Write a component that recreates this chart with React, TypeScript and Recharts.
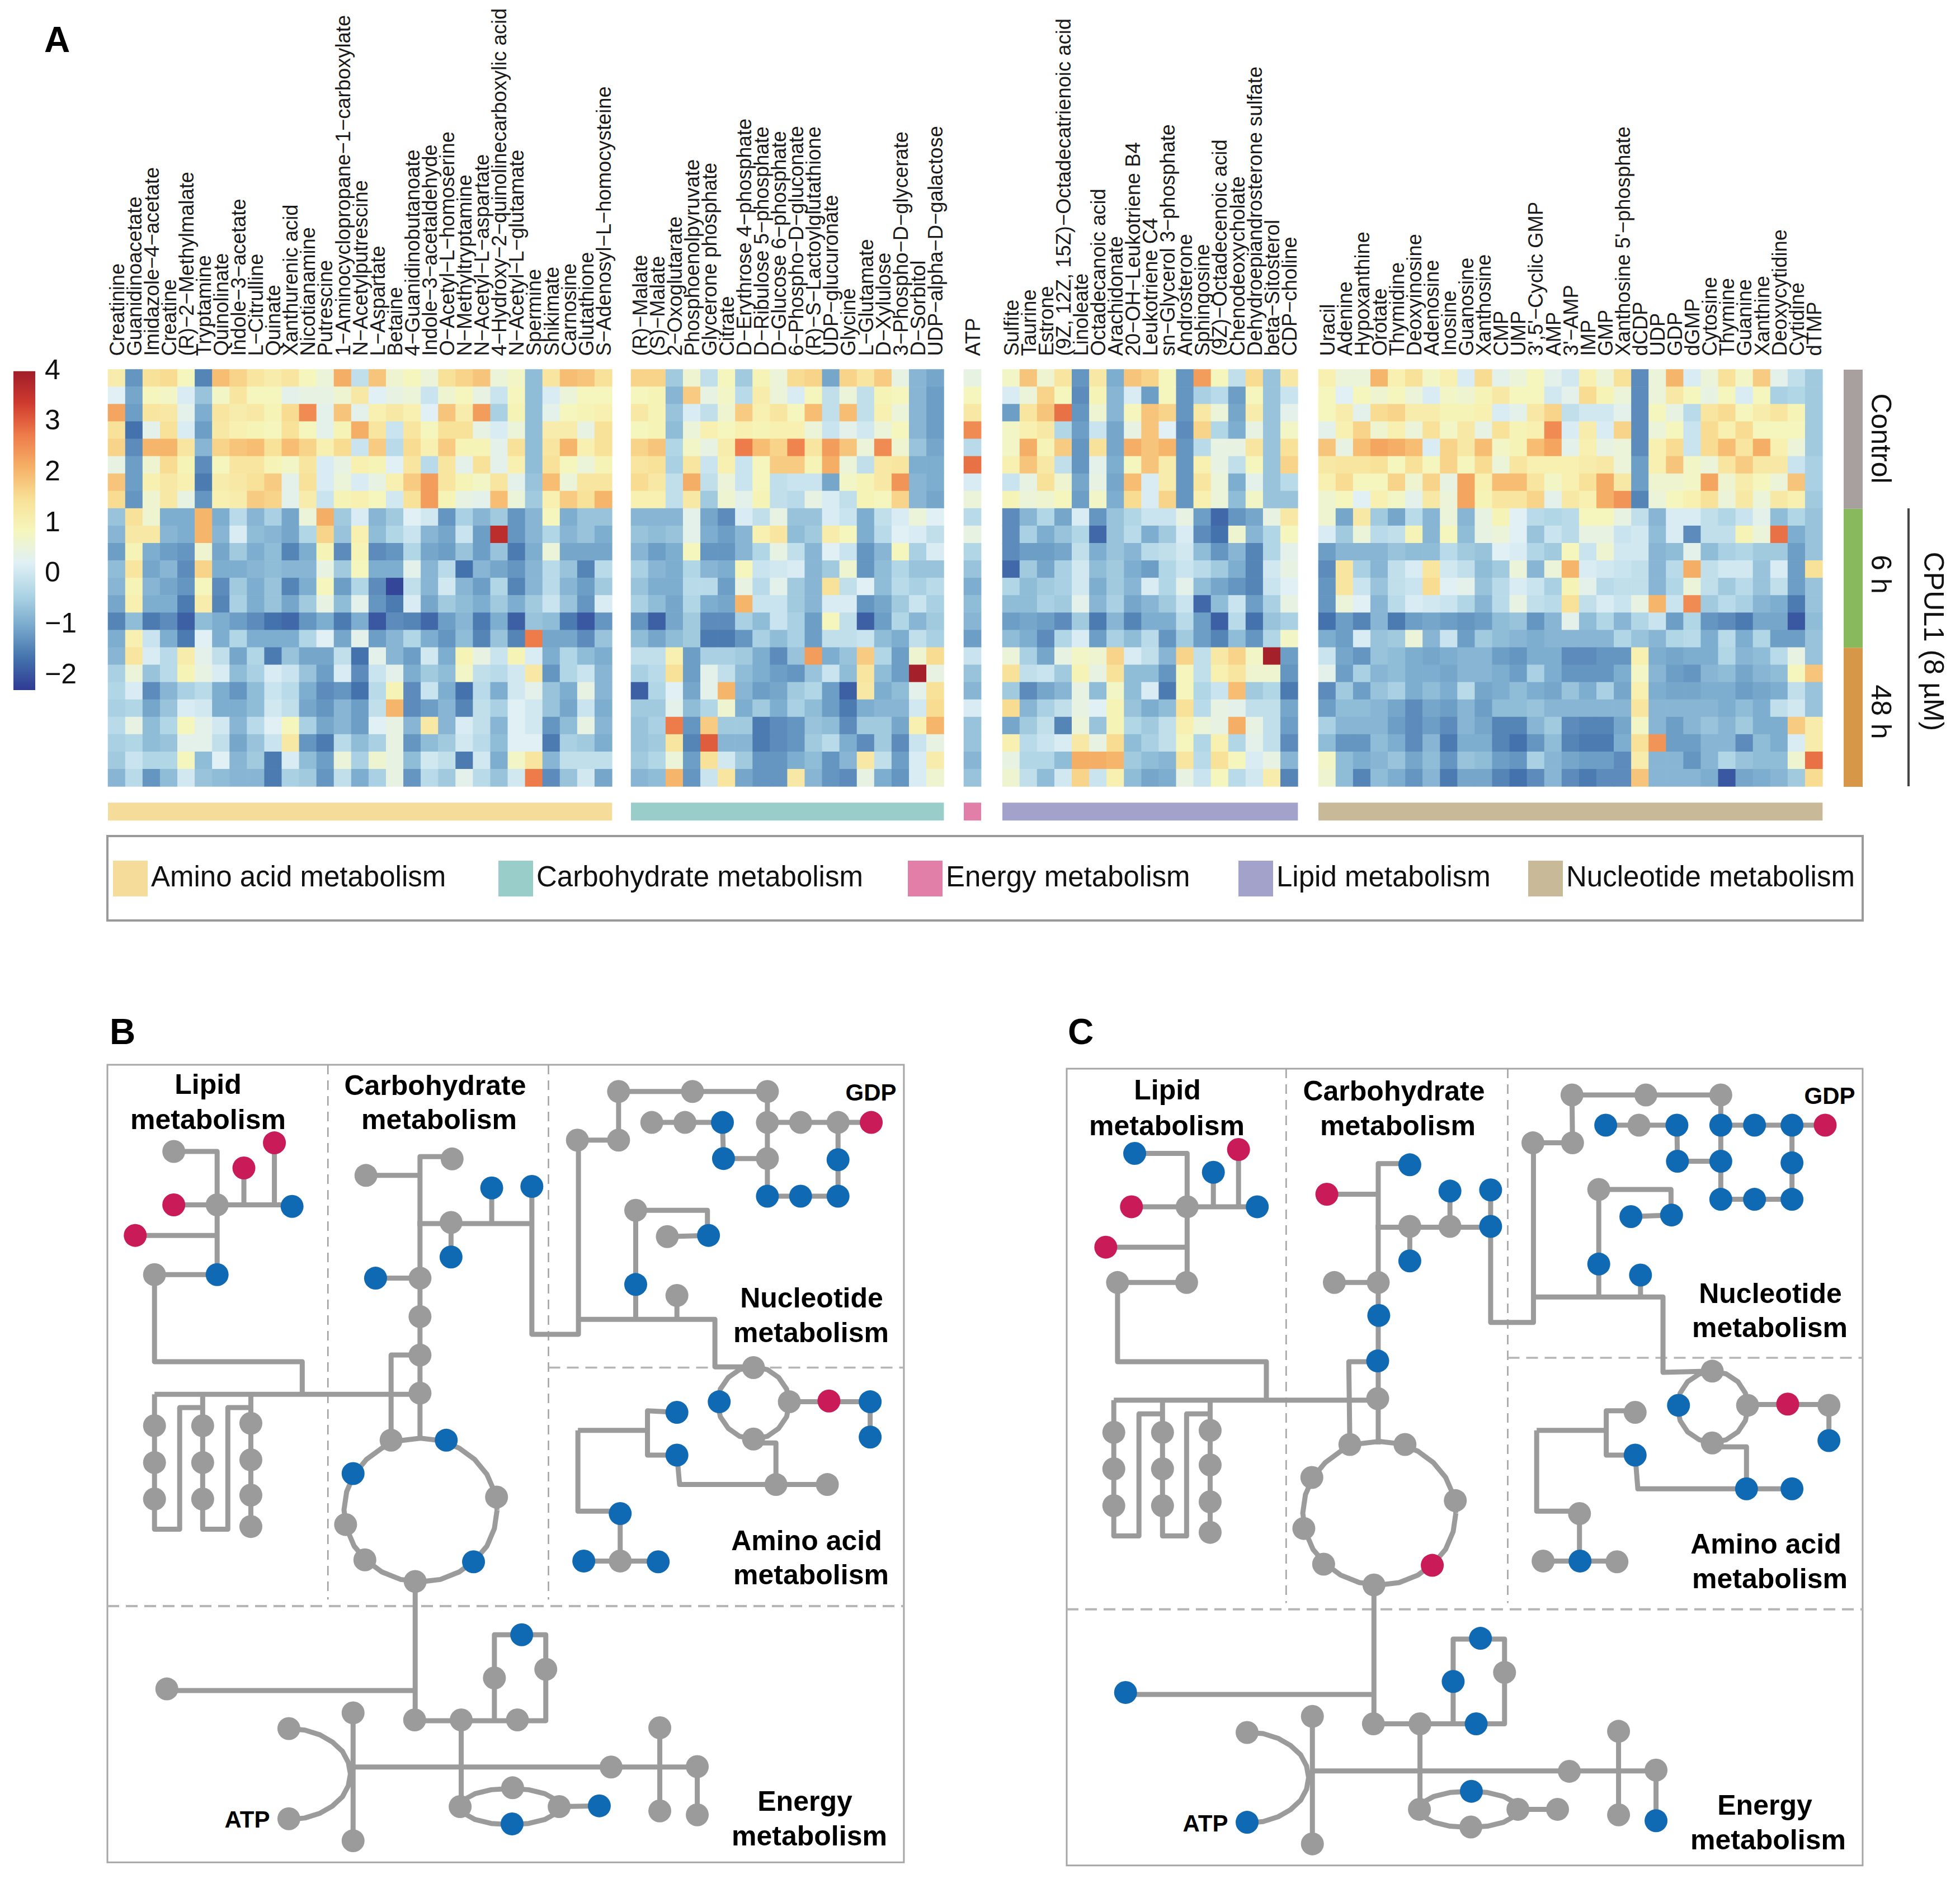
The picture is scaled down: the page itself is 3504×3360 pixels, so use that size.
import { BarChart, Bar, ScatterChart, Scatter, XAxis, YAxis, ReferenceArea, ReferenceLine } from 'recharts'

const FONT = "'Liberation Sans', Arial, sans-serif"
const CELL = 31.08
const HEAT_TOP = 660.5

const aminoLabels = ['Creatinine', 'Guanidinoacetate', 'Imidazole−4−acetate', 'Creatine', '(R)−2−Methylmalate', 'Tryptamine', 'Quinolinate', 'Indole−3−acetate', 'L−Citrulline', 'Quinate', 'Xanthurenic acid', 'Nicotianamine', 'Putrescine', '1−Aminocyclopropane−1−carboxylate', 'N−Acetylputrescine', 'L−Aspartate', 'Betaine', '4−Guanidinobutanoate', 'Indole−3−acetaldehyde', 'O−Acetyl−L−homoserine', 'N−Methyltryptamine', 'N−Acetyl−L−aspartate', '4−Hydroxy−2−quinolinecarboxylic acid', 'N−Acetyl−L−glutamate', 'Spermine', 'Shikimate', 'Carnosine', 'Glutathione', 'S−Adenosyl−L−homocysteine']
const carbLabels = ['(R)−Malate', '(S)−Malate', '2−Oxoglutarate', 'Phosphoenolpyruvate', 'Glycerone phosphate', 'Citrate', 'D−Erythrose 4−phosphate', 'D−Ribulose 5−phosphate', 'D−Glucose 6−phosphate', '6−Phospho−D−gluconate', '(R)−S−Lactoylglutathione', 'UDP−glucuronate', 'Glycine', 'L−Glutamate', 'D−Xylulose', '3−Phospho−D−glycerate', 'D−Sorbitol', 'UDP−alpha−D−galactose']
const energyLabels = ['ATP']
const lipidLabels = ['Sulfite', 'Taurine', 'Estrone', '(9Z, 12Z, 15Z)−Octadecatrienoic acid', 'Linoleate', 'Octadecanoic acid', 'Arachidonate', '20−OH−Leukotriene B4', 'Leukotriene C4', 'sn−Glycerol 3−phosphate', 'Androsterone', 'Sphingosine', '(9Z)−Octadecenoic acid', 'Chenodeoxycholate', 'Dehydroepiandrosterone sulfate', 'beta−Sitosterol', 'CDP−choline']
const nucLabels = ['Uracil', 'Adenine', 'Hypoxanthine', 'Orotate', 'Thymidine', 'Deoxyinosine', 'Adenosine', 'Inosine', 'Guanosine', 'Xanthosine', 'CMP', 'UMP', "3',5'−Cyclic GMP", 'AMP', "3'−AMP", 'IMP', 'GMP', "Xanthosine 5'−phosphate", 'dCDP', 'UDP', 'GDP', 'dGMP', 'Cytosine', 'Thymine', 'Guanine', 'Xanthine', 'Deoxycytidine', 'Cytidine', 'dTMP']

const aminoRows = [
  [1.1, -1.3, 1.4, 1.5, 0.8, -1.5, 1.9, 1.6, 1.3, 1.1, 1.3, 0.8, 0.5, 2.1, -0.2, 1.8, 0.6, 0.8, 0.5, 1.4, 1.6, 1.8, 0.5, 0.7, -0.8, 1.3, 1.9, 1.8, 1.4],
  [0.2, -1.1, 0.8, 0.7, 0.1, -0.7, 0.7, 1.3, 0.8, 0.8, 0.3, 0.4, 0.4, 0.6, 1.2, 0.2, 0.4, 0.5, -0.1, 0.6, 0.8, 0.4, -0.1, 0.8, -0.8, 0.1, 0.5, 0.8, 0.8],
  [2.2, -1.2, 1.3, 1.2, 0.3, -1.0, 1.3, 1.1, 1.2, 0.9, 1.5, 2.5, 0.3, 1.8, 0.3, 1.0, 1.2, 1.0, 0.2, 1.8, 1.1, 2.3, -0.5, 0.9, -0.8, 0.3, 0.8, 0.9, 1.0],
  [1.4, -1.7, 0.3, 1.4, 0.1, -1.2, 1.2, 1.0, 0.9, 0.8, 1.4, 0.8, 0.3, 0.9, 2.1, 1.3, -0.1, 1.3, 0.8, 1.4, 1.4, 0.4, 0.1, 0.5, -0.8, 1.1, 1.1, 0.4, 1.4],
  [1.6, -1.4, 2.0, 2.0, 1.3, -0.9, 1.6, 1.8, 1.9, 1.4, 1.9, 1.6, 1.0, 1.5, -0.1, 1.7, -0.3, 1.5, 1.0, 1.7, 0.9, 0.9, 0.3, 1.4, -0.8, 1.3, 2.0, 1.0, 1.4],
  [0.4, -1.2, 0.6, 1.5, 0.9, -1.4, 0.8, 1.3, 1.3, 0.9, 0.7, 1.3, 0.1, 0.4, 1.0, 0.9, 0.2, 1.3, -0.3, 1.3, 0.3, 1.4, 0.3, 1.0, -0.8, 1.4, 0.8, 0.5, 0.9],
  [1.8, -1.2, 1.0, 1.2, 1.0, -1.6, 1.1, 1.2, 1.4, 1.7, 0.3, 1.4, 0.1, 0.5, 0.1, 0.4, 1.0, 1.7, 2.3, 1.3, 0.9, 0.7, 1.3, 0.3, -0.7, 1.9, 0.5, 1.3, 1.3],
  [1.5, -1.3, 0.6, 1.2, 0.4, -1.3, 1.0, 1.1, 1.7, 1.6, 0.3, 1.1, -0.1, 0.9, 1.0, 0.8, 0.0, 1.4, 2.3, 0.9, 0.4, 0.3, 1.9, 0.5, -0.6, 1.0, 1.7, 1.4, 2.0],
  [-0.7, 1.4, 0.6, -1.0, -1.0, 2.0, -1.0, -0.3, -0.9, -0.5, -1.1, 0.5, 2.1, -0.6, 0.1, -0.9, -0.6, 0.2, 0.0, -1.3, -0.5, -0.9, -0.6, -1.3, -0.9, 0.8, -1.0, -0.7, -0.7],
  [-0.9, 1.2, 1.2, -0.9, -1.0, 2.0, -0.9, 0.1, -0.8, -0.9, -1.1, -0.4, 1.6, -0.7, 1.0, -0.8, -0.4, -0.1, -0.9, -1.1, -0.1, -1.2, 3.6, -1.3, -0.9, -0.4, -0.9, -0.7, -1.0],
  [-1.2, 0.9, -1.0, -1.2, -1.3, 0.6, -1.1, -0.6, -1.0, -0.8, -1.5, -1.0, 0.9, -1.4, 0.9, -1.4, -1.3, -0.4, -1.1, -1.2, -0.7, -1.2, -0.7, -1.6, -1.0, 0.5, -1.1, -1.1, -1.1],
  [-0.8, 1.3, -1.1, -0.9, -1.4, 1.6, -1.0, -1.0, -0.9, -0.8, -0.9, -0.9, 0.4, -0.6, 0.8, -1.0, -1.0, 0.3, -0.9, -0.3, -1.7, -0.9, -1.1, -1.3, -0.9, -0.3, -0.7, -1.5, -0.3],
  [-0.9, 0.9, -0.9, -1.1, -1.3, 0.8, -1.4, -0.6, -1.0, -0.7, -1.5, -1.0, 0.8, -1.2, -0.4, -1.4, -2.2, -0.2, -0.9, 0.0, -0.9, -1.2, -0.4, -1.5, -0.9, -0.3, -0.9, -1.2, -0.6],
  [-1.1, 1.0, -1.0, -1.0, -1.6, 1.1, -1.5, -0.5, -1.0, -0.7, -1.1, -0.6, 0.4, -0.8, 0.3, -1.3, -1.6, 0.1, -1.1, -0.6, -0.8, -1.0, -0.6, -1.0, -0.6, -0.1, -0.7, -1.3, 0.1],
  [-1.5, -0.8, -1.6, -1.4, -1.9, -0.8, -1.0, -1.2, -1.4, -1.7, -1.8, -1.3, -1.0, -1.6, -1.0, -2.0, -1.4, -1.5, -1.8, -1.2, -0.9, -1.6, -1.0, -1.9, -0.7, -0.8, -1.6, -2.0, -1.3],
  [-1.0, 1.0, -0.1, -1.0, -1.6, 0.2, -1.0, -0.4, -1.0, -1.0, -1.0, -0.4, 0.2, -1.1, 0.3, -1.2, -0.9, -0.4, -1.0, -1.3, -0.8, -1.5, -0.7, -1.5, 2.7, -1.1, -1.1, -1.4, -0.7],
  [-0.9, 1.3, 0.1, -0.3, 1.1, 0.3, -0.2, -1.1, -0.4, -1.6, -0.7, -1.1, -1.1, -0.2, -1.7, 0.3, -0.9, -1.2, 0.0, -1.0, 0.9, 0.4, -0.1, 0.9, 0.1, -1.0, -0.4, -0.8, -1.0],
  [-0.5, 0.5, -0.7, -0.3, 0.9, 0.4, 0.1, -0.8, -0.5, 0.1, -0.1, -0.7, -1.2, 0.1, -1.4, -0.1, 0.3, -1.0, -0.6, -0.8, 0.7, -0.2, -0.3, 0.0, 1.2, -1.3, -0.4, -0.1, -0.9],
  [-0.4, 0.1, -1.4, -0.9, -0.5, -0.3, -1.0, -1.3, -0.8, -0.1, -0.3, -1.0, -1.4, -1.3, -1.7, -0.3, 0.9, -1.4, -0.1, -1.0, -1.7, -0.3, -1.0, 0.0, 0.3, -0.7, -1.0, 0.4, -0.9],
  [-0.5, -0.4, -1.1, -0.7, 0.1, 0.0, -1.0, -1.0, -0.8, 0.0, -0.2, -1.1, -1.3, -0.9, -1.2, -0.2, 2.0, -1.4, -1.2, -0.9, -1.5, -0.2, -0.5, 0.2, 0.0, -0.7, -1.1, -0.1, -1.0],
  [-0.3, 0.4, -0.8, -0.4, 0.8, 0.3, 0.0, -0.9, -0.3, 0.2, 0.8, -0.5, -1.1, -0.9, -1.2, 0.2, 0.4, -0.9, 1.2, -0.9, 0.1, -0.2, -0.9, 0.2, 0.0, -1.3, -0.8, 0.4, -0.9],
  [-0.5, -0.4, -0.8, -0.7, 0.3, 0.3, -0.2, -1.1, -0.7, -0.1, 1.2, -1.3, -1.6, -0.3, -0.8, -0.5, 0.4, -1.3, -0.8, -0.6, 0.0, -0.3, -0.8, 0.2, 0.2, -1.6, -0.5, -0.6, -1.0],
  [-0.6, -0.1, -0.4, -0.4, 0.8, -0.8, 0.2, -0.9, -0.6, -1.6, 0.1, -0.8, -1.2, 0.5, -0.5, 0.6, 0.4, -0.8, 0.0, -0.2, -1.6, 0.0, -1.0, 0.7, 1.3, -0.9, -0.2, -0.2, -0.2],
  [-0.9, -0.3, -1.3, -0.8, 0.0, -0.7, -0.8, -0.9, -0.9, -1.6, -0.5, -0.6, -1.3, -0.2, -1.0, -0.5, 0.4, -1.3, -0.3, -0.6, 0.3, -0.3, -0.7, 0.0, 2.7, -1.4, -0.7, 0.0, -1.1],
]

const carbRows = [
  [1.6, 1.6, -0.6, 0.6, -0.2, 0.8, -0.6, 0.9, 0.5, 1.5, 1.6, -1.1, 1.6, 1.3, 1.7, 0.4, -0.9, -1.1],
  [0.8, 0.9, -0.9, 1.7, 0.4, 0.7, -0.3, 1.1, 0.5, 0.1, 0.8, -0.2, 0.5, -0.2, 0.9, 0.8, -0.9, -1.2],
  [1.2, 0.9, -0.7, 0.1, -0.2, 0.6, 1.7, 1.0, 1.3, 0.8, 1.9, -0.2, 1.9, -0.2, 1.0, 0.5, -0.9, -1.2],
  [0.8, 0.9, -0.8, 0.5, 1.0, 0.8, 1.0, 0.9, 1.0, 1.0, 0.5, -0.1, 0.3, 0.0, 0.5, 0.8, -0.9, -1.2],
  [1.6, 1.8, -0.4, 0.7, 0.4, 1.1, 2.7, 1.9, 1.6, 2.6, 1.3, 2.3, 1.8, 0.5, 2.5, 0.6, -0.7, -1.1],
  [1.3, 1.4, -0.5, 1.3, -0.1, 1.0, -0.1, 0.8, 1.7, 1.7, 0.9, 2.1, 0.5, -0.2, 1.2, 1.3, -1.0, -1.0],
  [1.5, 1.2, -0.2, 2.1, -0.2, 0.5, -0.1, 0.8, -0.2, -0.1, -0.1, -1.1, 0.7, 0.9, 1.2, 2.4, -0.9, -1.0],
  [1.0, 1.0, -0.2, 1.2, -0.6, 0.6, 0.3, 0.9, -0.2, -0.3, 0.4, 0.1, -0.2, 0.9, 0.8, 1.6, -0.9, -1.1],
  [-0.9, -0.9, -0.9, 0.3, -1.1, -1.4, 0.1, -0.2, 0.4, -0.7, -0.7, 0.1, -0.1, -1.0, -0.2, 0.1, 0.5, 0.2],
  [-0.7, -0.8, -0.7, 0.3, -1.0, -1.2, -0.9, 1.0, 1.3, -0.8, -0.6, 1.1, 0.8, -1.0, -0.3, 0.2, 0.1, -0.2],
  [-0.9, -1.2, -1.0, 0.8, -1.3, -1.3, -0.9, -0.4, 0.4, -0.2, -0.9, 0.2, -0.1, -1.3, -0.9, 0.8, -0.5, 0.1],
  [-0.5, -0.9, -1.0, -0.4, -0.9, -1.0, 0.8, -0.1, 0.0, 0.1, -0.9, -0.6, 0.6, -1.3, -0.8, -0.4, -0.7, -0.7],
  [-0.7, -1.0, -1.0, -0.3, -0.3, -1.2, 0.4, -0.3, 0.3, -0.6, -0.9, 1.4, -0.2, 0.2, -0.8, -0.3, -0.5, -0.3],
  [-0.5, -0.8, -1.1, -0.4, -1.0, -1.1, 2.0, -0.1, -0.1, -0.6, -0.9, 0.1, 0.1, -1.3, -1.1, -0.6, -0.1, -0.5],
  [-1.3, -1.9, -1.1, -0.6, -1.4, -1.4, -0.5, -0.8, -0.1, -0.5, -1.2, 0.8, -0.2, -1.9, -1.2, -0.4, -0.9, -0.6],
  [-0.8, -1.1, -0.8, -0.6, -1.6, -1.6, -1.3, -0.5, -0.8, -0.5, -1.2, -0.2, -0.2, -0.1, -0.8, -1.0, -0.2, -0.5],
  [-0.2, -0.2, 1.0, -1.2, -0.5, -0.5, -0.6, -1.0, -1.4, -0.7, 2.3, -1.0, -0.7, 1.7, -0.4, -1.2, 0.6, 1.5],
  [-0.5, -0.3, 1.4, -1.2, 0.3, -0.2, -0.8, -1.0, -1.2, -1.3, -0.7, -0.1, -0.8, 1.3, -0.8, -1.2, 3.9, 0.4],
  [-1.9, -0.4, 0.2, -1.1, 0.3, 2.0, -0.9, -1.2, -1.1, -0.6, -0.4, -1.2, -1.9, 1.2, -1.0, -0.8, 0.3, 1.4],
  [-0.6, -0.6, 0.3, -0.8, -0.4, 0.6, -1.0, -0.6, -1.0, -0.5, -0.8, -1.2, -1.6, -1.0, -0.9, -0.9, 0.0, 1.5],
  [-0.7, -0.5, 2.7, -1.3, 1.7, -0.6, -0.6, -1.6, -1.4, -1.3, -0.7, -0.8, -1.4, -0.6, -0.6, -1.1, 1.0, 2.0],
  [-0.7, -0.6, 1.3, -1.5, 3.0, -0.9, -0.9, -1.6, -1.4, -1.3, -0.6, -0.3, -1.0, -1.4, -0.6, -1.4, -0.1, 0.4],
  [-0.6, -0.4, 0.5, -1.2, 1.4, 0.0, -0.6, -1.3, -1.3, -1.0, -0.8, -1.3, -0.9, 1.2, -0.2, -1.2, 0.1, 1.1],
  [-0.9, -0.8, 2.0, -1.3, -0.1, 1.3, -1.1, -1.3, -1.3, 1.2, -0.9, -1.3, -1.4, 0.4, -1.0, -1.3, 0.1, 0.6],
]

const atpColumn = [0.4, 0.8, 1.2, 2.5, -0.3, 2.8, 0.1, 0.5, -0.3, 0.4, -0.4, -0.7, -1.0, -0.8, -0.9, -1.2, -0.1, -0.7, -0.9, 0.1, -0.7, -0.7, -0.9, -0.7]

const lipidRows = [
  [0.7, 1.8, 0.6, 1.3, -1.3, 1.2, -1.0, 1.8, 1.6, 0.8, -1.3, 2.3, 0.8, -0.2, 1.5, -0.7, 1.2],
  [0.1, 0.5, 1.6, 0.8, -1.4, 0.9, -0.9, 0.1, -1.2, 0.8, -1.3, -0.5, -0.3, -1.2, 0.8, -0.7, -0.1],
  [-1.2, 1.3, 1.8, 2.8, -1.3, 0.6, -0.9, 0.8, 1.8, 1.6, -1.3, 1.2, 0.5, -1.1, 1.1, -0.7, 0.3],
  [0.7, 1.0, 1.2, -0.4, -1.2, -0.1, -1.1, 0.4, 1.8, 0.2, -1.4, 1.6, -0.4, -1.0, 0.4, -0.7, 0.7],
  [0.7, 2.1, 0.9, 1.7, -1.3, 1.4, -1.1, 2.1, 1.8, 2.0, -1.3, -0.3, 0.4, 0.4, 1.3, -0.7, 1.4],
  [1.0, 1.8, 1.2, -0.2, -1.3, 0.3, -1.0, 0.8, 1.8, 1.1, -1.3, 1.0, 0.4, -0.2, 0.8, -0.7, 1.6],
  [-0.1, 0.4, 1.4, 0.6, -1.1, 0.4, -1.1, 1.9, 0.1, 1.1, -1.3, 1.3, 0.5, -1.0, 0.3, -0.7, -0.3],
  [0.9, 0.5, 0.6, 0.8, -1.2, 0.7, -1.0, 1.5, 0.1, 1.6, -1.3, 1.0, 0.5, -0.8, 0.7, -0.7, -0.7],
  [-1.4, -0.9, -0.4, -1.1, 0.1, -1.3, -0.7, -0.4, -0.1, -0.1, 0.4, -1.2, -1.8, -1.3, -1.1, 0.4, 1.2],
  [-1.4, -0.5, -1.0, -0.7, -0.4, -1.8, -0.7, -0.3, -1.0, -0.6, 0.1, -1.4, -1.7, 0.6, -0.9, -0.4, 0.8],
  [-1.4, -1.2, -1.2, -1.1, -0.2, -1.0, -0.7, -0.9, -0.3, -0.2, 0.0, -0.8, -1.3, -0.9, -1.5, -0.4, 0.3],
  [-1.8, -0.6, -1.1, -0.5, 0.0, -0.8, -0.6, -1.0, -1.2, -0.4, -0.1, -0.3, -0.6, -1.0, -1.5, 0.0, 0.4],
  [-0.4, -0.8, -0.6, -0.5, 0.0, -1.0, -0.6, -0.9, 0.1, -0.4, 0.3, -0.8, -1.1, -1.3, -1.5, -0.1, 0.2],
  [-0.8, -0.8, -0.5, -0.6, 0.3, -0.9, -0.5, -1.1, -0.9, -0.6, -0.1, -1.8, -0.8, -0.1, -1.2, -0.5, 0.4],
  [-1.2, -1.1, -1.2, -1.4, -0.6, -1.6, -0.9, -1.5, -1.0, -1.0, -0.3, -1.2, -1.9, -0.3, -1.7, -0.7, -0.5],
  [-0.8, -1.0, -1.4, -0.4, 0.1, -1.2, -0.5, -0.8, -0.3, -1.3, -0.6, -1.2, -1.5, -0.8, -1.3, -0.4, 0.7],
  [0.5, -0.5, -1.1, 0.4, 0.7, 0.6, 1.6, 0.1, -0.2, -0.9, 1.6, -0.2, 1.2, 1.6, 0.7, 3.9, -1.2],
  [1.4, -0.2, -0.1, -0.6, 0.9, 0.4, 1.4, -0.8, -0.8, -1.3, 0.8, -0.2, 1.0, 1.3, 0.6, 0.6, -1.3],
  [-0.6, -1.4, -1.1, -0.9, 0.4, -0.8, 0.7, -0.8, 0.1, -1.6, 0.8, -0.4, -0.1, 1.9, -0.6, -0.4, -1.6],
  [1.5, -0.9, -0.5, -0.2, 0.4, 0.2, 0.9, -0.7, -1.0, -0.8, 1.4, -0.3, 0.4, 0.3, -0.2, -0.2, -1.1],
  [-1.1, -0.6, -0.2, -1.5, 0.5, -0.7, 0.9, -0.4, -0.6, -0.2, 1.0, 0.5, 0.4, 2.1, 0.4, -0.2, -1.2],
  [1.0, -0.3, -0.1, 0.1, 1.2, 0.4, 1.5, -0.8, -0.5, -0.2, 0.8, -0.4, 1.0, -0.4, 0.3, -0.2, -1.4],
  [0.4, -0.4, -0.4, -0.8, 2.1, 2.1, 2.0, -0.6, -0.8, -0.9, 1.3, -0.3, 1.4, 0.8, 0.1, 0.4, -0.9],
  [0.6, -0.2, -0.8, 0.0, 1.6, -0.1, 1.0, -0.8, -1.1, -1.0, 0.4, -0.1, 0.8, -0.3, 0.0, 1.1, -1.5],
]

const nucRows = [
  [1.0, 0.5, 0.5, 2.0, 1.0, 1.4, 0.7, 1.0, 0.1, 1.5, 0.3, 0.5, 0.8, 0.3, 0.0, 1.0, 0.5, 1.4, -1.4, 0.5, 2.0, 0.1, 0.5, 1.4, 0.7, 1.7, 0.3, -0.2, -0.6],
  [0.8, 0.2, 0.8, 0.6, 0.8, 0.5, 0.1, 0.7, 0.6, 0.9, 1.2, 0.8, 0.8, 0.0, 0.3, 1.5, 0.9, 0.5, -1.4, 0.5, 1.2, 0.8, 0.4, 0.8, 0.1, 0.8, -0.5, -0.4, -0.6],
  [0.8, 1.1, 0.3, 1.5, 1.6, 1.1, 1.1, 0.9, 0.9, 1.0, 0.1, 0.3, 1.2, 1.6, -0.2, 0.0, 0.0, 0.3, -1.4, 0.8, 0.4, -0.3, 1.3, 1.5, 0.8, 1.1, 1.3, 0.9, -0.6],
  [0.3, 1.0, 1.6, 0.6, 1.0, 0.5, 1.4, 0.7, 1.2, 0.4, 1.4, 0.9, 1.0, 2.5, 0.1, 1.1, 0.1, 1.6, -1.4, 0.5, 0.8, -0.1, 1.5, 1.0, 1.5, 0.8, 0.8, 0.8, -0.6],
  [1.8, 0.4, 1.9, 2.2, 2.1, 1.9, 0.1, 1.6, 1.2, 1.9, 0.7, 0.9, 1.9, 2.2, 0.3, 1.0, 0.4, 0.5, -1.4, 1.0, 1.5, -0.1, 1.5, 1.9, 1.3, 2.1, 1.0, 0.5, -0.6],
  [1.2, 1.3, 1.3, 1.4, 0.8, 1.4, 0.8, 1.6, 0.8, 1.5, 0.5, 1.3, 1.0, 1.0, 1.0, 1.1, 1.2, 0.5, -1.2, 1.0, 1.8, 0.7, 0.5, 1.3, 1.7, 1.2, 1.2, -0.1, -0.5],
  [1.0, 1.5, 0.8, 0.8, 1.6, 0.6, 1.6, 0.4, 2.2, 1.0, 1.9, 1.9, 1.3, 0.7, 1.0, 1.4, 2.1, 1.2, -1.2, 0.6, 0.6, 0.7, 2.2, 0.6, 1.1, 0.8, 0.5, 1.8, -0.5],
  [0.6, 0.8, 0.2, 1.0, 0.7, 0.3, 1.2, 0.5, 2.2, 0.9, 1.3, 1.3, 1.6, 0.3, 1.2, 1.0, 2.1, 2.4, -1.5, 0.5, 0.8, 1.0, 1.4, 0.5, 1.2, 0.5, 1.2, 1.0, -0.6],
  [0.6, -1.1, 1.2, -0.6, -1.1, -0.3, -0.9, 0.5, -0.9, 0.4, 0.9, 0.2, -0.3, -0.4, -0.3, 0.8, 0.8, 0.4, -0.2, -0.9, 0.1, 0.1, -0.2, -0.4, -0.1, 0.3, -0.8, -0.4, -0.7],
  [0.1, -0.6, 0.5, -0.3, -0.2, 0.9, -0.9, 0.8, -0.8, 0.4, 0.5, 0.2, -0.7, -0.1, -0.3, 0.4, 0.4, -0.1, 0.0, -0.8, 0.1, -1.4, -0.2, -0.2, 0.9, 0.5, 2.8, -1.0, -0.7],
  [-1.2, -0.9, -0.9, -0.9, -0.7, -0.8, -0.8, -0.3, -0.6, -0.7, 0.2, 0.1, -0.4, -0.6, 0.8, -0.1, 0.6, 0.0, 0.0, -0.9, -0.8, 0.3, -0.8, -0.5, -0.4, -0.6, -0.6, -1.2, -0.7],
  [-1.4, 1.3, -0.5, -0.9, -0.2, 0.1, 1.3, 0.0, -0.2, -0.8, -0.6, 0.5, -0.9, 0.5, 2.0, 0.1, 0.0, -0.1, -0.2, -0.9, -0.3, 2.1, -0.2, 0.0, 0.0, -0.7, 0.1, -1.2, 1.4],
  [-1.3, 1.3, -0.1, -0.7, -0.2, -0.1, 1.5, 0.2, 0.3, -0.7, -0.3, 0.1, -0.1, -0.5, 0.9, 0.3, -0.3, -0.2, -0.2, -0.9, -0.4, 0.5, -0.2, -0.6, -0.3, -0.7, -0.2, -1.2, -0.7],
  [-1.3, 0.5, 0.2, -0.9, -0.3, 0.1, 0.0, -0.1, -0.4, -0.9, -0.3, 0.4, -0.2, -0.3, 1.4, -0.2, 0.1, -0.1, 0.4, 2.0, -0.1, 2.5, -0.6, -0.3, -0.5, -0.9, -1.0, -1.6, -0.7],
  [-1.7, -1.2, -1.5, -0.9, -1.6, -1.2, -1.1, -1.2, -1.3, -1.2, -0.8, -0.7, -1.3, -0.9, 0.3, -0.8, -0.4, -0.9, -0.4, -0.1, -1.2, -0.4, -1.3, -1.4, -1.6, -1.1, -1.1, -2.0, -0.8],
  [-1.0, -1.2, 0.1, -0.7, -0.6, 0.5, -0.9, -0.1, -1.2, -0.6, -0.8, -0.9, -1.0, -0.9, -0.9, -0.9, -0.9, -0.4, -0.7, -0.9, -0.4, -0.3, -1.0, -0.3, -1.0, -0.4, -1.2, -1.2, -0.7],
  [-0.1, -1.1, -1.3, -0.7, -0.8, -1.0, -1.1, -1.0, -0.9, -0.9, -1.2, -1.3, -1.0, -1.0, -1.4, -1.4, -1.3, -1.3, 1.0, -1.0, -1.1, -1.0, -1.0, -0.4, -0.9, -0.8, -0.3, 0.4, -0.7],
  [0.3, -1.2, -0.5, -0.9, -0.8, -1.0, -1.0, -1.1, -0.9, -0.9, -1.0, -1.2, -0.5, -1.0, -1.3, -1.3, -1.3, -1.0, 0.7, -0.9, -1.2, -1.3, -0.9, -0.8, -1.1, -0.9, -0.8, 0.8, 1.8],
  [-1.4, -0.6, -1.2, -0.7, -0.5, -1.0, -0.8, -1.0, -0.3, -1.1, -1.0, -0.8, -1.0, -1.1, -0.7, -1.0, -0.5, -1.1, 1.0, -1.0, -1.1, -1.1, -1.0, -1.0, -1.2, -1.1, -1.0, -0.2, -0.7],
  [-1.2, -0.8, -0.8, -0.9, -1.1, -1.4, -1.1, -1.2, -0.9, -1.2, -0.8, -0.8, -0.7, -0.9, -0.9, -0.9, -0.9, -0.9, 1.3, -0.9, -0.9, -0.9, -0.9, -1.0, -0.8, -1.0, -0.2, 0.0, -0.7],
  [-0.5, -0.9, -0.9, -0.9, -1.2, -1.4, -1.2, -1.4, -0.9, -1.1, -1.5, -1.5, -0.9, -0.6, -1.4, -1.5, -1.5, -1.1, 0.7, -0.9, -1.2, -0.9, -0.7, -0.9, -0.6, -1.0, -1.0, 1.7, 1.1],
  [-0.8, -1.3, -1.3, -0.8, -1.0, -1.4, -0.9, -1.6, -1.0, -1.0, -1.5, -1.7, -1.3, -0.8, -1.5, -1.6, -1.6, -1.0, 1.4, 2.4, -1.2, -1.2, -0.9, -0.9, -1.4, -0.8, -1.0, 0.1, 1.1],
  [0.7, -0.8, -1.0, -0.9, -0.7, -1.1, -0.8, -1.3, -0.7, -0.8, -1.2, -1.3, -0.5, -0.9, -1.1, -1.2, -1.2, -1.4, 1.1, -0.9, -0.9, -1.3, -0.9, -0.4, -0.7, -0.8, -0.8, 0.6, 2.8],
  [0.6, -0.8, -1.5, -0.8, -1.0, -1.3, -0.9, -1.6, -1.1, -1.1, -1.5, -1.7, -1.4, -0.9, -1.4, -1.6, -1.4, -1.4, 1.8, -0.9, -0.9, -0.9, -1.0, -2.0, -1.1, -1.0, -0.9, -0.6, 1.5],
]

const legendNames = ['Amino acid metabolism', 'Carbohydrate metabolism', 'Energy metabolism', 'Lipid metabolism', 'Nucleotide metabolism']
const legendColors = ['#f6dc9b', '#98cdca', '#e27fa9', '#a3a2cb', '#c8ba99']
const legendBoxX = [202, 891, 1623, 2214, 2732]

const groupSamples = [8, 8, 8]
const sampleColors = ['#a89f9f', '#88b95c', '#d69748']

const colorTicks = [-2, -1, 0, 1, 2, 3, 4]
const PALETTE = ['#2f3a93', '#4472ad', '#78a9cc', '#aed5e5', '#e0f0f5', '#f6f6bc', '#f8e096', '#f5b066', '#ee7b4a', '#cf3a2e', '#a01d2a']
const COLOR_MIN = -2.33
const COLOR_MAX = 3.96

function valueColor(v: number): string {
  const t = Math.min(0.9999, Math.max(0, (v - COLOR_MIN) / (COLOR_MAX - COLOR_MIN))) * (PALETTE.length - 1)
  const i = Math.floor(t)
  const f = t - i
  const a = parseInt(PALETTE[i].slice(1), 16)
  const b = parseInt(PALETTE[i + 1].slice(1), 16)
  const mix = (s: number) => Math.round(((a >> s) & 255) * (1 - f) + ((b >> s) & 255) * f)
  return `rgb(${mix(16)},${mix(8)},${mix(0)})`
}

type P = [number, number]
const GRAY = '#9b9b9b'
const BLUE = '#106ab3'
const RED = '#c81b58'

// panel B, layout units
const bGray: P[] = [[157, 369], [238, 505], [121, 683], [677, 388], [516, 430], [675, 550], [617, 692], [617, 790], [617, 888], [617, 985], [563, 1105], [760, 1250], [478, 1320], [514, 1410], [608, 1465], [121, 1068], [121, 1162], [121, 1255], [211, 1068], [211, 1162], [211, 1255], [301, 1062], [301, 1155], [301, 1245], [301, 1325], [988, 216], [1126, 216], [1266, 216], [911, 340], [988, 340], [1050, 295], [1112, 295], [1266, 295], [1328, 295], [1398, 295], [1266, 387], [1020, 519], [1079, 586], [1097, 736], [1240, 920], [1307, 1007], [1240, 1102], [1282, 1218], [1378, 1218], [991, 1413], [144, 1739], [756, 1711], [852, 1689], [607, 1818], [694, 1818], [799, 1818], [492, 1800], [372, 1840], [372, 2070], [492, 2126], [974, 1938], [1135, 1937], [1065, 1838], [1065, 2050], [1135, 2060], [790, 1991], [692, 2039], [877, 2039]]
const bBlue: P[] = [[378, 509], [238, 683], [751, 462], [826, 458], [675, 638], [534, 692], [666, 1105], [492, 1190], [717, 1415], [1182, 295], [1184, 387], [1398, 390], [1266, 483], [1328, 483], [1398, 483], [1156, 583], [1020, 708], [1176, 1007], [1458, 1007], [1458, 1097], [1097, 1034], [1097, 1143], [991, 1292], [923, 1413], [1062, 1415], [807, 1601], [952, 2037], [789, 2083]]
const bRed: P[] = [[345, 347], [288, 411], [157, 505], [85, 583], [1460, 295], [1381, 1005]]

const bEdges: P[][] = [
  [[157, 369], [238, 369], [238, 683]],
  [[345, 347], [345, 505]],
  [[288, 411], [288, 505]],
  [[157, 505], [378, 505]],
  [[85, 583], [238, 583]],
  [[121, 683], [238, 683]],
  [[121, 683], [121, 905], [397, 905], [397, 988]],
  [[121, 988], [617, 988]],
  [[121, 988], [121, 1332], [168, 1332], [168, 1022], [211, 1022]],
  [[211, 988], [211, 1332], [258, 1332], [258, 1022], [301, 1022]],
  [[301, 988], [301, 1325]],
  [[677, 382], [617, 382], [617, 1100]],
  [[516, 430], [617, 430]],
  [[612, 553], [826, 553]],
  [[751, 462], [751, 553]],
  [[826, 458], [826, 835], [913, 835], [913, 340], [988, 340]],
  [[675, 550], [675, 638]],
  [[534, 692], [617, 692]],
  [[563, 1105], [563, 888], [617, 888]],
  [[988, 216], [1266, 216]],
  [[988, 216], [988, 340]],
  [[1050, 295], [1182, 295], [1184, 387], [1266, 387]],
  [[1266, 216], [1266, 483], [1398, 483], [1398, 295]],
  [[1266, 295], [1460, 295]],
  [[1020, 519], [1154, 519], [1154, 583]],
  [[1079, 586], [1156, 583]],
  [[1020, 519], [1020, 797]],
  [[913, 797], [1168, 797], [1168, 918], [1240, 918]],
  [[1097, 736], [1097, 797]],
  [[1307, 1010], [1302, 1045], [1287, 1075], [1266, 1095], [1240, 1102], [1214, 1095], [1193, 1075], [1178, 1045], [1173, 1010], [1178, 975], [1193, 945], [1214, 925], [1240, 918], [1266, 925], [1287, 945], [1302, 975], [1307, 1010]],
  [[1307, 1007], [1458, 1007], [1458, 1097]],
  [[1240, 1112], [1282, 1112], [1282, 1218], [1378, 1218]],
  [[1282, 1218], [1102, 1218], [1097, 1143]],
  [[1097, 1034], [1042, 1030], [1042, 1143], [1097, 1143]],
  [[912, 1080], [1042, 1080]],
  [[912, 1080], [912, 1286], [991, 1286], [991, 1413]],
  [[923, 1413], [1062, 1413]],
  [[761, 1283], [756, 1330], [742, 1375], [719, 1412], [690, 1441], [655, 1460], [618, 1466], [581, 1460], [546, 1441], [517, 1412], [494, 1375], [480, 1330], [475, 1283], [480, 1236], [494, 1192], [517, 1154], [546, 1125], [581, 1106], [618, 1100], [655, 1106], [690, 1125], [719, 1154], [742, 1192], [756, 1236], [761, 1283]],
  [[608, 1465], [608, 1820]],
  [[144, 1743], [608, 1743]],
  [[607, 1820], [852, 1820], [852, 1601], [756, 1601], [756, 1820]],
  [[694, 1820], [694, 2039]],
  [[492, 1800], [492, 2126]],
  [[372, 1840], [402, 1844], [430, 1856], [453, 1874], [472, 1898], [483, 1926], [487, 1956], [483, 1986], [472, 2014], [453, 2038], [430, 2056], [402, 2068], [372, 2072]],
  [[488, 1938], [1135, 1938]],
  [[1065, 1838], [1065, 2050]],
  [[1135, 1938], [1135, 2060]],
  [[877, 2039], [870, 2057], [850, 2072], [820, 2082], [785, 2085], [750, 2082], [720, 2072], [700, 2057], [693, 2039], [700, 2021], [720, 2006], [750, 1996], [785, 1993], [820, 1996], [850, 2006], [870, 2021], [877, 2039]],
  [[877, 2039], [952, 2037]],
]

// panel C, layout units
const cGray: P[] = [[253, 510], [123, 703], [252, 703], [669, 560], [744, 560], [528, 703], [610, 703], [609, 999], [557, 1116], [660, 1116], [486, 1200], [754, 1259], [471, 1330], [508, 1421], [602, 1474], [116, 1085], [116, 1178], [116, 1272], [207, 1085], [207, 1178], [207, 1272], [296, 1080], [296, 1168], [296, 1262], [296, 1340], [972, 225], [1110, 225], [1250, 225], [899, 347], [973, 347], [1097, 302], [1022, 466], [1234, 929], [1300, 1016], [1234, 1112], [1452, 1016], [1090, 1034], [986, 1292], [918, 1413], [1056, 1415], [846, 1697], [601, 1828], [688, 1828], [487, 1809], [365, 1850], [487, 2134], [967, 1949], [1129, 1946], [1059, 1847], [1059, 2060], [687, 2046], [871, 2046], [945, 2046], [783, 2091]]
const cBlue: P[] = [[155, 374], [302, 422], [384, 510], [669, 403], [744, 470], [820, 467], [820, 560], [669, 648], [611, 787], [609, 903], [1035, 302], [1168, 302], [1250, 302], [1313, 302], [1383, 302], [1169, 394], [1250, 394], [1383, 398], [1250, 491], [1313, 491], [1383, 491], [1082, 535], [1158, 531], [1022, 656], [1100, 684], [1171, 1016], [1452, 1106], [1090, 1143], [1298, 1229], [1383, 1229], [987, 1413], [138, 1748], [801, 1610], [750, 1720], [793, 1828], [365, 2079], [1129, 2075], [784, 2000]]
const cRed: P[] = [[349, 364], [149, 510], [101, 613], [514, 478], [711, 1424], [1445, 302], [1375, 1013]]

const cEdges: P[][] = [
  [[155, 374], [253, 374], [253, 703]],
  [[349, 364], [349, 510]],
  [[302, 422], [302, 510]],
  [[149, 510], [384, 510]],
  [[101, 613], [253, 613]],
  [[123, 703], [252, 703]],
  [[123, 703], [123, 905], [401, 905], [401, 1003]],
  [[116, 1003], [609, 1003]],
  [[116, 1003], [116, 1349], [163, 1349], [163, 1038], [207, 1038]],
  [[207, 1003], [207, 1349], [252, 1349], [252, 1038], [296, 1038]],
  [[296, 1003], [296, 1340]],
  [[669, 400], [610, 400], [610, 1116]],
  [[514, 478], [610, 478]],
  [[605, 562], [820, 562]],
  [[744, 470], [744, 560]],
  [[820, 467], [820, 805], [900, 805], [900, 347], [973, 347]],
  [[669, 560], [669, 648]],
  [[528, 703], [610, 703]],
  [[557, 1116], [555, 905], [609, 905]],
  [[972, 225], [1250, 225]],
  [[972, 225], [973, 347]],
  [[1035, 302], [1168, 302], [1169, 394], [1250, 394]],
  [[1250, 225], [1250, 491], [1383, 491], [1383, 302]],
  [[1250, 302], [1445, 302]],
  [[1022, 466], [1157, 466], [1157, 531]],
  [[1082, 535], [1158, 531]],
  [[1022, 466], [1022, 741]],
  [[900, 740], [1142, 740], [1142, 932], [1234, 929]],
  [[1100, 684], [1100, 741]],
  [[1301, 1020], [1296, 1055], [1282, 1084], [1260, 1104], [1235, 1111], [1210, 1104], [1188, 1084], [1174, 1055], [1169, 1020], [1174, 985], [1188, 956], [1210, 936], [1235, 929], [1260, 936], [1282, 956], [1296, 985], [1301, 1020]],
  [[1300, 1014], [1452, 1014], [1452, 1106]],
  [[1234, 1122], [1298, 1122], [1298, 1229], [1383, 1229]],
  [[1298, 1229], [1095, 1229], [1090, 1143]],
  [[1090, 1030], [1036, 1030], [1036, 1143], [1090, 1143]],
  [[906, 1080], [1036, 1080]],
  [[906, 1080], [906, 1286], [986, 1286], [986, 1413]],
  [[918, 1413], [1056, 1413]],
  [[755, 1291], [750, 1338], [736, 1383], [713, 1420], [684, 1449], [649, 1468], [612, 1474], [575, 1468], [540, 1449], [511, 1420], [488, 1383], [474, 1338], [469, 1291], [474, 1244], [488, 1200], [511, 1162], [540, 1133], [575, 1114], [612, 1108], [649, 1114], [684, 1133], [713, 1162], [736, 1200], [750, 1244], [755, 1291]],
  [[602, 1474], [602, 1828]],
  [[138, 1753], [602, 1753]],
  [[601, 1828], [846, 1828], [846, 1612], [750, 1612], [750, 1828]],
  [[688, 1828], [688, 2046]],
  [[487, 1809], [487, 2134]],
  [[365, 1850], [395, 1853], [423, 1865], [446, 1883], [465, 1907], [476, 1935], [480, 1965], [476, 1995], [465, 2023], [446, 2047], [423, 2065], [395, 2077], [365, 2081]],
  [[483, 1948], [1129, 1948]],
  [[1059, 1847], [1059, 2060]],
  [[1129, 1946], [1129, 2075]],
  [[871, 2046], [864, 2064], [844, 2079], [814, 2089], [779, 2092], [744, 2089], [714, 2079], [694, 2064], [687, 2046], [694, 2028], [714, 2013], [744, 2003], [779, 2000], [814, 2003], [844, 2013], [864, 2028], [871, 2046]],
  [[871, 2046], [945, 2046]],
]

const toPts = (list: P[]) => list.map(([x, y]) => ({ x, y }))
const noMark = () => <g />

function Heat({ left, rows, labels, color }: { left: number; rows: number[][]; labels: string[]; color: string }) {
  const n = labels.length
  const side = 14
  const pts = rows.flatMap((row, r) => row.map((v, c) => ({ x: c + 0.5, y: r + 0.5, v })))
  const ticks = labels.map((_, i) => i + 0.5)
  const cell = (p: any) => (
    <rect x={p.cx - CELL / 2 - 0.3} y={p.cy - CELL / 2 - 0.3} width={CELL + 0.6} height={CELL + 0.6} fill={valueColor(p.payload.v)} />
  )
  const tick = (p: any) => (
    <text
      x={p.x + 13}
      y={p.y}
      transform={`rotate(-90 ${p.x + 13} ${p.y})`}
      fontSize={36.4}
      fontFamily={FONT}
      fill="#1a1a1a"
      textAnchor="start"
    >
      {labels[p.payload.value - 0.5]}
    </text>
  )
  return (
    <div style={{ position: 'absolute', left: left - side, top: 0 }}>
      <ScatterChart width={n * CELL + side * 2} height={HEAT_TOP + 26 * CELL} margin={{ top: 0, right: side, bottom: 0, left: side }}>
        <XAxis
          xAxisId={0}
          type="number"
          dataKey="x"
          orientation="top"
          domain={[0, n]}
          ticks={ticks}
          interval={0}
          height={HEAT_TOP}
          axisLine={false}
          tickLine={false}
          tickSize={0}
          tickMargin={24}
          tick={tick}
        />
        <YAxis yAxisId={0} type="number" dataKey="y" domain={[0, 26]} reversed hide />
        <Scatter data={pts} shape={cell} isAnimationActive={false} />
        <ReferenceArea x1={0} x2={n} y1={24.93} y2={25.96} fill={color} fillOpacity={1} stroke="none" />
      </ScatterChart>
    </div>
  )
}

function Network({ left, top, x0, x1, y0, y1, vx, hTop, hx, hy, edges, gray, blue, red }: any) {
  const W = (x1 - x0) / 1.045
  const H = (y1 - y0) / 1.4255
  const pad = 6
  const circle = (fill: string) => (p: any) => <circle cx={p.cx} cy={p.cy} r={20.5} fill={fill} />
  return (
    <div style={{ position: 'absolute', left: left - pad, top: top - pad }}>
      <ScatterChart width={W + pad * 2} height={H + pad * 2} margin={{ top: pad, right: pad, bottom: pad, left: pad }}>
        <XAxis type="number" dataKey="x" domain={[x0, x1]} hide />
        <YAxis type="number" dataKey="y" domain={[y0, y1]} reversed hide />
        <ReferenceArea x1={x0} x2={x1} y1={y0} y2={y1} fill="none" stroke="#a6a6a6" strokeWidth={3} />
        {vx.map((x: number) => (
          <ReferenceLine key={x} segment={[{ x, y: y0 }, { x, y: hTop }]} stroke="#a0a0a0" strokeWidth={2.5} strokeDasharray="17 11" />
        ))}
        <ReferenceLine segment={[{ x: x0, y: hy[0] }, { x: x1, y: hy[0] }]} stroke="#b5b5b5" strokeWidth={4} strokeDasharray="21 12" />
        <ReferenceLine segment={[{ x: hx, y: hy[1] }, { x: x1, y: hy[1] }]} stroke="#b5b5b5" strokeWidth={3.5} strokeDasharray="21 12" />
        {edges.map((e: P[], i: number) => (
          <Scatter key={i} data={toPts(e)} line={{ stroke: GRAY, strokeWidth: 9, strokeLinejoin: 'round' }} shape={noMark} isAnimationActive={false} />
        ))}
        <Scatter data={toPts(gray)} shape={circle(GRAY)} isAnimationActive={false} />
        <Scatter data={toPts(blue)} shape={circle(BLUE)} isAnimationActive={false} />
        <Scatter data={toPts(red)} shape={circle(RED)} isAnimationActive={false} />
      </ScatterChart>
    </div>
  )
}

const panelTexts: [string, number, number, number][] = [
  ['Lipid', 372, 1956, 50], ['metabolism', 372, 2019, 50], ['Carbohydrate', 778, 1958, 50], ['metabolism', 785, 2019, 50],
  ['GDP', 1557, 1968, 42], ['Nucleotide', 1451, 2338, 50], ['metabolism', 1450, 2400, 50], ['Amino acid', 1442, 2772, 50],
  ['metabolism', 1450, 2833, 50], ['Energy', 1439, 3238, 50], ['metabolism', 1447, 3300, 50], ['ATP', 442, 3268, 42],
  ['Lipid', 2087, 1966, 50], ['metabolism', 2086, 2030, 50], ['Carbohydrate', 2492, 1968, 50], ['metabolism', 2499, 2030, 50],
  ['GDP', 3271, 1974, 42], ['Nucleotide', 3165, 2330, 50], ['metabolism', 3164, 2391, 50], ['Amino acid', 3157, 2778, 50],
  ['metabolism', 3164, 2840, 50], ['Energy', 3155, 3245, 50], ['metabolism', 3161, 3307, 50], ['ATP', 2155, 3275, 42],
]
const letterTexts: [string, number, number][] = [['A', 79, 93], ['B', 196, 1867], ['C', 1909, 1867]]
const sideTexts: [string, number, number][] = [['Control', 3346, 784], ['6 h', 3346, 1027], ['48 h', 3346, 1273], ['CPUL1 (8 µM)', 3440, 1147]]

export default function App() {
  const stops = PALETTE.slice().reverse()
  return (
    <div style={{ position: 'absolute', left: 0, top: 0, width: 3504, height: 3360, background: '#fff', overflow: 'hidden', fontFamily: FONT }}>
      <Heat left={193} rows={aminoRows} labels={aminoLabels} color={legendColors[0]} />
      <Heat left={1128} rows={carbRows} labels={carbLabels} color={legendColors[1]} />
      <Heat left={1723} rows={atpColumn.map((v) => [v])} labels={energyLabels} color={legendColors[2]} />
      <Heat left={1792} rows={lipidRows} labels={lipidLabels} color={legendColors[3]} />
      <Heat left={2357} rows={nucRows} labels={nucLabels} color={legendColors[4]} />

      <div style={{ position: 'absolute', left: 3296, top: HEAT_TOP }}>
        <BarChart
          width={34}
          height={746}
          data={[{ name: 'samples', control: groupSamples[0], h6: groupSamples[1], h48: groupSamples[2] }]}
          margin={{ top: 0, right: 0, bottom: 0, left: 0 }}
          barCategoryGap={0}
        >
          <XAxis dataKey="name" hide />
          <YAxis domain={[0, 24]} reversed hide />
          <Bar dataKey="control" stackId="s" fill={sampleColors[0]} isAnimationActive={false} />
          <Bar dataKey="h6" stackId="s" fill={sampleColors[1]} isAnimationActive={false} />
          <Bar dataKey="h48" stackId="s" fill={sampleColors[2]} isAnimationActive={false} />
        </BarChart>
      </div>

      <svg width={0} height={0} style={{ position: 'absolute' }}>
        <defs>
          <linearGradient id="colorbar" x1="0" y1="0" x2="0" y2="1">
            {stops.map((c, i) => (
              <stop key={i} offset={i / (stops.length - 1)} stopColor={c} />
            ))}
          </linearGradient>
        </defs>
      </svg>
      <div style={{ position: 'absolute', left: 24, top: 630 }}>
        <ScatterChart width={150} height={634} margin={{ top: 30, right: 0, bottom: 30, left: 0 }}>
          <XAxis type="number" dataKey="x" domain={[0, 1]} hide />
          <YAxis
            type="number"
            dataKey="y"
            orientation="right"
            domain={[COLOR_MIN, 4]}
            ticks={colorTicks}
            interval={0}
            width={111}
            axisLine={false}
            tickLine={false}
            tickSize={0}
            tickMargin={17}
            tick={{ fontSize: 50, fill: '#111', fontFamily: FONT }}
            tickFormatter={(v: number) => (v < 0 ? `−${-v}` : `${v}`)}
          />
          <ReferenceArea x1={0} x2={1} y1={COLOR_MIN} y2={COLOR_MAX} fill="url(#colorbar)" fillOpacity={1} stroke="none" />
          <Scatter data={colorTicks.map((y) => ({ x: 0, y }))} shape={noMark} isAnimationActive={false} />
        </ScatterChart>
      </div>

      <Network left={192} top={1904} x0={33} x1={1521} y0={148} y1={2181} vx={[445, 857]} hTop={1511} hx={857} hy={[1528, 920]} edges={bEdges} gray={bGray} blue={bBlue} red={bRed} />
      <Network left={1907} top={1911} x0={28} x1={1515} y0={158} y1={2189} vx={[438, 852]} hTop={1520} hx={852} hy={[1536, 895]} edges={cEdges} gray={cGray} blue={cBlue} red={cRed} />

      <svg width={3504} height={3360} style={{ position: 'absolute', left: 0, top: 0, pointerEvents: 'none' }} fontFamily={FONT}>
        <rect x={192} y={1495} width={3138} height={151} fill="none" stroke="#9a9a9a" strokeWidth={4} />
        {legendNames.map((name, i) => (
          <g key={name}>
            <rect x={legendBoxX[i]} y={1539} width={62} height={64} fill={legendColors[i]} />
            <text x={legendBoxX[i] + 68} y={1585} fontSize={51} fill="#111">{name}</text>
          </g>
        ))}
        {letterTexts.map(([t, x, y]) => (
          <text key={t} x={x} y={y} fontSize={64} fontWeight="bold" fill="#000">{t}</text>
        ))}
        {panelTexts.map(([t, x, y, size], i) => (
          <text key={i} x={x} y={y} fontSize={size} fontWeight="bold" textAnchor="middle" fill="#000">{t}</text>
        ))}
        {sideTexts.map(([t, x, y]) => (
          <text key={t} x={x} y={y} fontSize={50} textAnchor="middle" fill="#111" transform={`rotate(90 ${x} ${y})`}>{t}</text>
        ))}
        <line x1={3412} y1={909} x2={3412} y2={1406} stroke="#444" strokeWidth={4} />
      </svg>
    </div>
  )
}
